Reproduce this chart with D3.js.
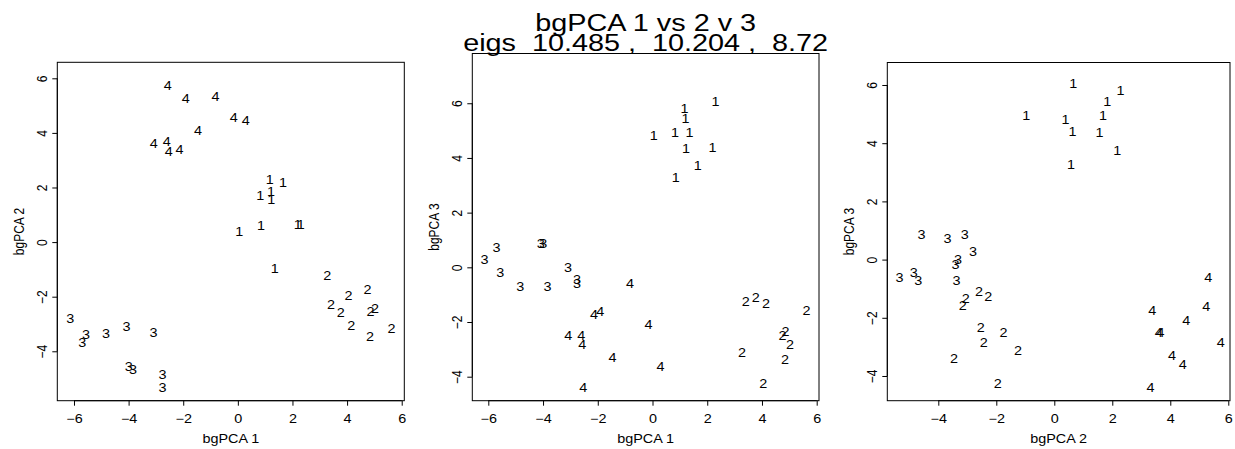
<!DOCTYPE html>
<html>
<head>
<meta charset="utf-8">
<script src="https://cdn.jsdelivr.net/npm/d3@7"></script>
<style>
  body { margin: 0; background: #fff; }
  svg { display: block; }
  text { font-family: 'Liberation Sans', Arial, Helvetica, sans-serif; fill: #000; }
</style>
</head>
<body>
<div id="chart"></div>
<script>
// group of each specimen, and its scores on the three bgPCA axes
const groups = ['1', '1', '1', '1', '1', '1', '1', '1', '1', '1',
  '2', '2', '2', '2', '2', '2', '2', '2', '2', '2',
  '3', '3', '3', '3', '3', '3', '3', '3', '3', '3',
  '4', '4', '4', '4', '4', '4', '4', '4', '4', '4'];
const pc1 = [2.30, 1.17, 1.21, 0.05, 0.82, 1.35, 1.22, 2.19, 1.65, 0.85,
  3.41, 3.77, 4.15, 5.63, 4.86, 4.75, 5.02, 3.27, 4.84, 4.05,
  -6.14, -5.70, -5.56, -4.83, -3.84, -4.08, -3.99, -3.09, -2.76, -2.76,
  -0.82, -2.14, -1.91, -0.15, -3.08, -2.60, -2.57, -1.46, 0.29, -2.53];
const pc2 = [0.65, 2.28, 1.83, 0.39, 1.68, -0.97, 1.56, 0.63, 2.17, 0.58,
  -2.28, -2.60, -3.05, -3.16, -2.54, -1.75, -2.43, -1.25, -3.46, -1.95,
  -2.80, -3.68, -3.41, -3.37, -4.69, -3.09, -4.58, -3.32, -4.85, -5.34,
  5.31, 3.38, 5.24, 4.55, 3.60, 3.66, 5.74, 4.06, 4.43, 3.32];
const pc3 = [6.05, 5.79, 5.42, 4.82, 4.93, 4.93, 4.35, 4.38, 3.73, 3.27,
  -1.27, -1.12, -1.34, -1.60, -2.34, -2.51, -2.85, -3.14, -3.40, -4.27,
  0.26, 0.70, -0.19, -0.72, -0.73, 0.86, 0.86, -0.01, -0.45, -0.62,
  -0.62, -1.75, -1.63, -2.12, -2.52, -2.52, -2.85, -3.31, -3.62, -4.39];

const titleLines = ['bgPCA 1 vs 2 v 3', 'eigs  10.485 ,  10.204 ,  8.72'];
const xTicks1 = [-6, -4, -2, 0, 2, 4, 6];
const xTicks3 = [-4, -2, 0, 2, 4, 6];
const yTicks = [-4, -2, 0, 2, 4, 6];

const width = 1235;
const height = 449;
const STRETCH = 'scale(1.2,1)';

const svg = d3.select('#chart').append('svg')
  .attr('width', width)
  .attr('height', height);

// one panel per pair of axes
const panels = [
  {
    xs: pc1, ys: pc2, xLab: 'bgPCA 1', yLab: 'bgPCA 2', xTicks: xTicks1,
    box: [57.3, 404.3, 62.3, 400.7], xDom: [-6.611, 6.095], yDom: [-5.81, 6.586],
  },
  {
    xs: pc1, ys: pc3, xLab: 'bgPCA 1', yLab: 'bgPCA 3', xTicks: xTicks1,
    box: [472.3, 819, 53.5, 400.7], xDom: [-6.585, 6.084], yDom: [-4.878, 7.82],
  },
  {
    xs: pc2, ys: pc3, xLab: 'bgPCA 2', yLab: 'bgPCA 3', xTicks: xTicks3,
    box: [887.3, 1230, 62.5, 400.7], xDom: [-5.759, 6.059], yDom: [-4.849, 6.773],
  },
];

const minus = (d) => String(d).replace('-', '\u2212');

panels.forEach((p) => {
  const [x0, x1, y0, y1] = p.box;
  const x = d3.scaleLinear().domain(p.xDom).range([x0, x1]);
  const y = d3.scaleLinear().domain(p.yDom).range([y1, y0]);

  // bottom axis
  const gx = svg.append('g')
    .attr('transform', `translate(0,${y1})`)
    .call(d3.axisBottom(x).tickValues(p.xTicks).tickSize(5).tickFormat(minus));
  gx.select('.domain').remove();
  gx.selectAll('.tick line').attr('stroke', '#000');
  gx.selectAll('.tick text')
    .attr('y', null).attr('dy', null)
    .attr('transform', `translate(0,22.3) ${STRETCH}`)
    .attr('font-size', 12)
    .attr('font-family', null);
  gx.append('line')
    .attr('x1', x(d3.min(p.xTicks))).attr('x2', x(d3.max(p.xTicks)))
    .attr('stroke', '#000');

  // left axis, labels parallel to the axis
  const gy = svg.append('g')
    .attr('transform', `translate(${x0},0)`)
    .call(d3.axisLeft(y).tickValues(yTicks).tickSize(5).tickFormat(minus));
  gy.select('.domain').remove();
  gy.selectAll('.tick line').attr('stroke', '#000');
  gy.selectAll('.tick text')
    .attr('x', null).attr('dy', null)
    .attr('text-anchor', 'middle')
    .attr('transform', `translate(-10.5,0) ${STRETCH} rotate(-90)`)
    .attr('font-size', 12)
    .attr('font-family', null);
  gy.append('line')
    .attr('y1', y(d3.min(yTicks))).attr('y2', y(d3.max(yTicks)))
    .attr('stroke', '#000');

  svg.append('rect')
    .attr('x', x0).attr('y', y0)
    .attr('width', x1 - x0).attr('height', y1 - y0)
    .attr('fill', 'none')
    .attr('stroke', '#000');

  svg.append('text')
    .attr('transform', `translate(${(x0 + x1) / 2},443) ${STRETCH}`)
    .attr('text-anchor', 'middle')
    .attr('font-size', 12)
    .text(p.xLab);

  svg.append('text')
    .attr('transform', `translate(${x0 - 33},${(y0 + y1) / 2}) ${STRETCH} rotate(-90)`)
    .attr('text-anchor', 'middle')
    .attr('font-size', 12)
    .text(p.yLab);

  // the points are drawn as their group numbers
  svg.append('g').selectAll('text')
    .data(groups.map((g, i) => ({ g, vx: p.xs[i], vy: p.ys[i] })))
    .join('text')
    .attr('transform', (d) => `translate(${x(d.vx)},${y(d.vy) + 4.2}) ${STRETCH}`)
    .attr('text-anchor', 'middle')
    .attr('font-size', 12)
    .text((d) => d.g);
});

// title, centred over the middle panel
const cx = (panels[1].box[0] + panels[1].box[1]) / 2;
svg.selectAll('.title')
  .data(titleLines)
  .join('text')
  .attr('class', 'title')
  .attr('transform', (d, i) => `translate(${cx},${30.5 + i * 20.5}) ${STRETCH}`)
  .attr('text-anchor', 'middle')
  .attr('font-size', 24)
  .style('white-space', 'pre')
  .text((d) => d);
</script>
</body>
</html>
